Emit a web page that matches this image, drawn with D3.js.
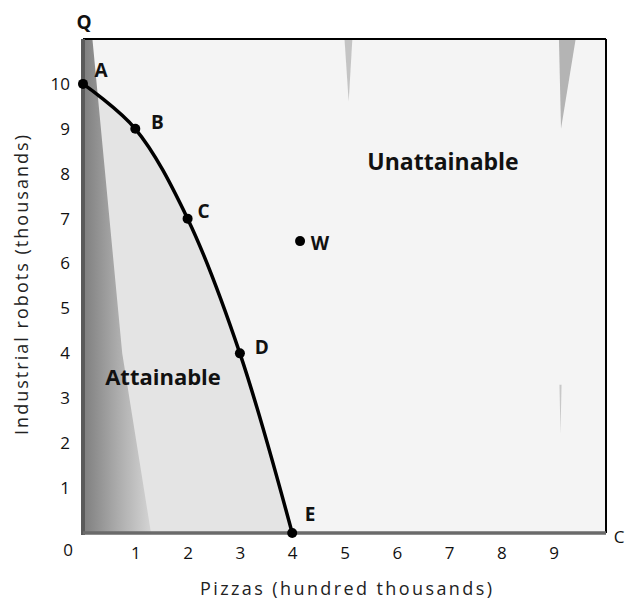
<!DOCTYPE html>
<html>
<head>
<meta charset="utf-8">
<script src="https://cdn.jsdelivr.net/npm/d3@7"></script>
<style>
  body { margin: 0; background: #fff; }
  svg { display: block; font-family: "Open Sans", "DejaVu Sans", sans-serif; }
</style>
</head>
<body>
<div id="chart"></div>
<script>
// production possibilities frontier points
const pointLabels = ["A", "B", "C", "D", "E"];
const pizzas = [0, 1, 2, 3, 4];
const robots = [10, 9, 7, 4, 0];
const pointW = { label: "W", x: 4.15, y: 6.5 };

const xTicks = [1, 2, 3, 4, 5, 6, 7, 8, 9];
const yTicks = [1, 2, 3, 4, 5, 6, 7, 8, 9, 10];

const width = 628, height = 606;
const plotLeft = 83, plotRight = 606, plotTop = 39, plotBottom = 533;

const x = d3.scaleLinear().domain([0, 10]).range([plotLeft, plotRight]);
const y = d3.scaleLinear().domain([0, 11]).range([plotBottom, plotTop]);

const svg = d3.select("#chart").append("svg")
    .attr("width", width)
    .attr("height", height);

const defs = svg.append("defs");
const grad = defs.append("linearGradient").attr("id", "axisShade")
    .attr("x1", "0").attr("x2", "1").attr("y1", "0").attr("y2", "0");
grad.append("stop").attr("offset", "0%").attr("stop-color", "#7e7e7e");
grad.append("stop").attr("offset", "50%").attr("stop-color", "#ababab");
grad.append("stop").attr("offset", "100%").attr("stop-color", "#d4d4d4");

const pts = pizzas.map((p, i) => ({ label: pointLabels[i], x: p, y: robots[i] }));

// unattainable background
svg.append("rect")
    .attr("x", x(0)).attr("y", plotTop)
    .attr("width", x(10) - x(0)).attr("height", plotBottom - plotTop)
    .attr("fill", "#f4f4f4");

// attainable region under the frontier
const line = d3.line().x(d => x(d.x)).y(d => y(d.y)).curve(d3.curveCatmullRom.alpha(0.5));
svg.append("path")
    .attr("d", line(pts) + `L${x(0)},${y(0)}Z`)
    .attr("fill", "#e4e4e4");

// dark shading along the vertical axis
svg.append("path")
    .attr("d", `M${x(0)},${plotTop}L${x(0.18)},${plotTop}L${x(0.75)},${y(4)}L${x(1.3)},${plotBottom}L${x(0)},${plotBottom}Z`)
    .attr("fill", "url(#axisShade)");

// scanner streaks
svg.append("path")
    .attr("d", `M${x(5.0)},${plotTop}L${x(5.15)},${plotTop}L${x(5.08)},${y(9.6)}Z`)
    .attr("fill", "#c4c4c4");
svg.append("path")
    .attr("d", `M${x(9.1)},${plotTop}L${x(9.42)},${plotTop}L${x(9.14)},${y(9.0)}Z`)
    .attr("fill", "#b4b4b4");
svg.append("path")
    .attr("d", `M${x(9.11)},${y(3.3)}L${x(9.15)},${y(3.3)}L${x(9.13)},${y(2.2)}Z`)
    .attr("fill", "#c8c8c8");

// frame
svg.append("line").attr("x1", x(0)).attr("x2", x(10)).attr("y1", plotTop).attr("y2", plotTop)
    .attr("stroke", "#000").attr("stroke-width", 2);
svg.append("line").attr("x1", x(10)).attr("x2", x(10)).attr("y1", plotTop).attr("y2", plotBottom)
    .attr("stroke", "#000").attr("stroke-width", 2);
svg.append("line").attr("x1", x(0)).attr("x2", x(0)).attr("y1", plotTop).attr("y2", plotBottom + 2)
    .attr("stroke", "#5a5a5a").attr("stroke-width", 4);
svg.append("line").attr("x1", x(0)).attr("x2", x(10)).attr("y1", plotBottom).attr("y2", plotBottom)
    .attr("stroke", "#6a6a6a").attr("stroke-width", 3.5);

// axes (labels only)
const xAxis = svg.append("g")
    .attr("transform", `translate(0,${plotBottom + 11})`)
    .call(d3.axisBottom(x).tickValues(xTicks).tickSize(0).tickFormat(d3.format("d")));
xAxis.select(".domain").remove();
xAxis.selectAll("text").attr("font-size", 17).attr("fill", "#111")
    .style("font-family", "'Open Sans', sans-serif");

const yAxis = svg.append("g")
    .attr("transform", `translate(${x(0) - 10},0)`)
    .call(d3.axisLeft(y).tickValues(yTicks).tickSize(0).tickFormat(d3.format("d")));
yAxis.select(".domain").remove();
yAxis.selectAll("text").attr("font-size", 17).attr("fill", "#111")
    .style("font-family", "'Open Sans', sans-serif");

svg.append("text").attr("x", 68).attr("y", 556).attr("text-anchor", "middle")
    .attr("font-size", 17).attr("fill", "#111").text("0");
svg.append("text").attr("x", 84).attr("y", 29).attr("text-anchor", "middle")
    .attr("font-size", 19).attr("font-weight", "bold").attr("fill", "#111").text("Q");
svg.append("text").attr("x", 619).attr("y", 543).attr("text-anchor", "middle")
    .attr("font-size", 17).attr("fill", "#111").text("C");

svg.append("text")
    .attr("x", 346).attr("y", 595)
    .attr("text-anchor", "middle")
    .attr("font-size", 18).attr("fill", "#222")
    .attr("textLength", 292).attr("lengthAdjust", "spacing")
    .text("Pizzas (hundred thousands)");

svg.append("text")
    .attr("transform", "translate(28,285) rotate(-90)")
    .attr("text-anchor", "middle")
    .attr("font-size", 18).attr("fill", "#222")
    .attr("textLength", 300).attr("lengthAdjust", "spacing")
    .text("Industrial robots (thousands)");

// frontier curve
svg.append("path")
    .attr("d", line(pts))
    .attr("fill", "none")
    .attr("stroke", "#000")
    .attr("stroke-width", 3.5);

svg.selectAll("circle.pt")
    .data(pts.concat([pointW]))
    .join("circle")
    .attr("class", "pt")
    .attr("cx", d => x(d.x))
    .attr("cy", d => y(d.y))
    .attr("r", 5)
    .attr("fill", "#000");

// point labels
const labelOffsets = { A: [18, -12], B: [22, -5], C: [16, -6], D: [22, -4], E: [18, -17], W: [20, 4] };
svg.selectAll("text.pl")
    .data(pts.concat([pointW]))
    .join("text")
    .attr("class", "pl")
    .attr("x", d => x(d.x) + labelOffsets[d.label][0])
    .attr("y", d => y(d.y) + labelOffsets[d.label][1])
    .attr("text-anchor", "middle")
    .attr("dominant-baseline", "middle")
    .attr("font-size", 19)
    .attr("font-weight", "bold")
    .attr("fill", "#111")
    .text(d => d.label);

svg.append("text").attr("x", 443).attr("y", 170).attr("text-anchor", "middle")
    .attr("font-size", 23).attr("font-weight", "bold").attr("fill", "#111").text("Unattainable");
svg.append("text").attr("x", 163).attr("y", 385).attr("text-anchor", "middle")
    .attr("font-size", 22).attr("font-weight", "bold").attr("fill", "#111").text("Attainable");
</script>
</body>
</html>
